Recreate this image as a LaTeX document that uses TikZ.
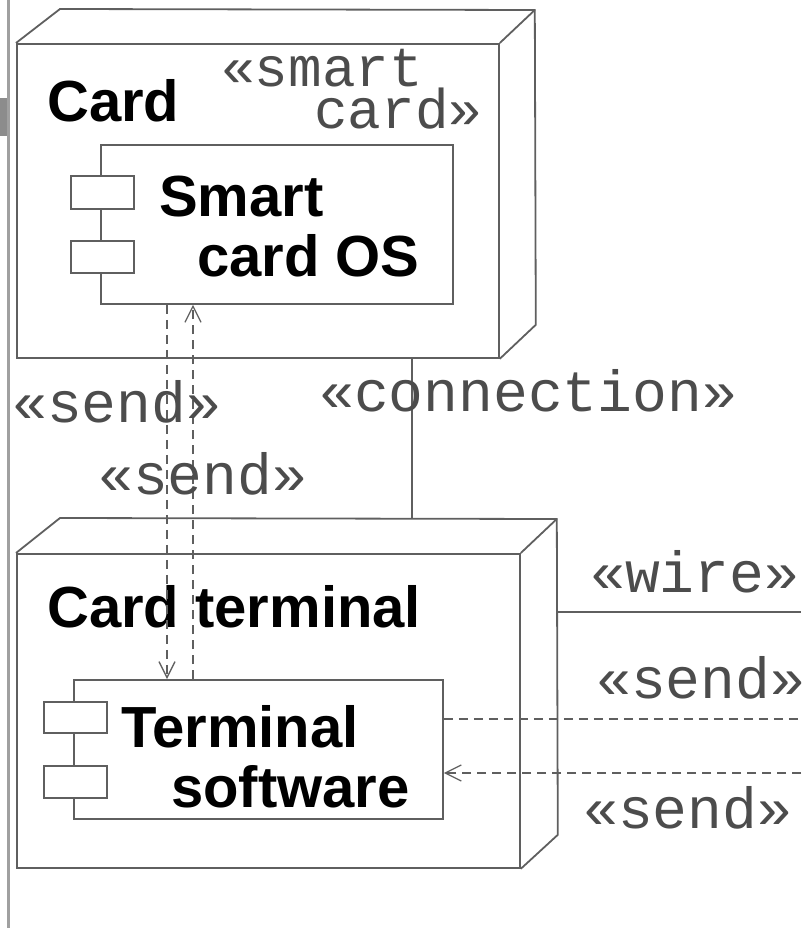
\documentclass[tikz,border=0pt]{standalone}
\usepackage{fontspec}
\usetikzlibrary{positioning,arrows.meta}
\newfontfamily\boxfont{Liberation Sans}
\newfontfamily\stereofont{Liberation Mono}
\definecolor{myline}{RGB}{95,95,95}
\definecolor{myframe}{RGB}{160,160,160}
\definecolor{mytab}{RGB}{140,140,140}

\begin{document}
\begin{tikzpicture}[x=1pt,y=-1pt,
edge/.style={draw=myline,line width=1.8pt},
nodebox/.style={
  edge,
  fill=white,
  rectangle,
  inner sep=0pt,
  anchor=north west},
tabbox/.style={nodebox,minimum width=63,minimum height=32},
title/.style={
  font={\boxfont\bfseries\fontsize{58}{60}\selectfont},
  anchor=base west,
  inner sep=0pt,
  align=left},
stereo/.style={
  font={\stereofont\fontsize{58}{40}\selectfont},
  text=black!70,
  anchor=base west,
  inner sep=0pt,
  align=left},
send/.style={edge,line width=1.5pt,dash pattern=on 9pt off 6pt,
  -{Straight Barb[length=16pt,width=16pt,line width=1.3pt]}},
]
\useasboundingbox (0,0) rectangle (801,928);
% frame line on the left
\fill[myframe] (6.5,0) rectangle (9.5,928);
\fill[mytab] (0,98) rectangle (7,136);

% the card node (two-line labels sit on their last baseline)
\node[nodebox,minimum width=482,minimum height=314] (card) at (16,43) {};
\draw[edge] (card.north west) -- ++(44,-34) coordinate (card nw)
  -- ([shift={(35,-33)}]card.north east) coordinate (card ne)
  -- ([shift={(36,-34)}]card.south east) -- (card.south east);
\draw[edge] (card.north east) -- (card ne);
\node[title] (cardname) at (47,122) {Card};
\node[stereo,font={\stereofont\fontsize{56}{40}\selectfont}] (cardtype) at (221,129)
  {«smart\\\hspace*{93pt}card»};

\node[nodebox,minimum width=352,minimum height=159] (os) at (100,144) {};
\node[tabbox,minimum height=33] (ostab1) at ([shift={(-30,31)}]os.north west) {};
\node[tabbox] (ostab2) at ([shift={(-30,96)}]os.north west) {};
\node[title] (osname) at (159,276) {Smart\\\hspace*{38pt}card OS};

% the terminal node
\node[nodebox,minimum width=503,minimum height=314] (term) at (16,553) {};
\draw[edge] (term.north west) -- ++(44,-35) coordinate (term nw)
  -- ([shift={(36,-34)}]term.north east) coordinate (term ne)
  -- ([shift={(37,-34)}]term.south east) -- (term.south east);
\draw[edge] (term.north east) -- (term ne);
\node[title] (termname) at (47,627) {Card terminal};

\node[nodebox,minimum width=369,minimum height=139] (tsw) at (73,679) {};
\node[tabbox,minimum height=31] (tswtab1) at ([shift={(-30,22)}]tsw.north west) {};
\node[tabbox] (tswtab2) at ([shift={(-30,86)}]tsw.north west) {};
\node[title] (tswname) at (121,807) {Terminal\\\hspace*{50pt}software};

% links
\coordinate (conn) at (412,0);
\coordinate (send1) at (167,0);
\coordinate (send2) at (193,0);
\coordinate (wireend) at (801,612);
\coordinate (outend) at (801,719);
\coordinate (inend) at (801,773);

\draw[edge] (card.south -| conn) -- (term nw -| conn);
\draw[send] (os.south -| send1) -- (tsw.north -| send1);
\draw[send] (tsw.north -| send2) -- (os.south -| send2);
\draw[edge] (term ne |- wireend) -- (wireend);
\draw[send,-] (tsw.east |- outend) -- (outend);
\draw[send] (inend) -- (tsw.east |- inend);

\node[stereo] (connlabel) at (319,411) {«connection»};
\node[stereo] (sendlabel1) at (12,422) {«send»};
\node[stereo] (sendlabel2) at (98,494) {«send»};
\node[stereo] (wirelabel) at (590,592) {«wire»};
\node[stereo] (outlabel) at (596,698) {«send»};
\node[stereo] (inlabel) at (583,828) {«send»};
\end{tikzpicture}
\end{document}
